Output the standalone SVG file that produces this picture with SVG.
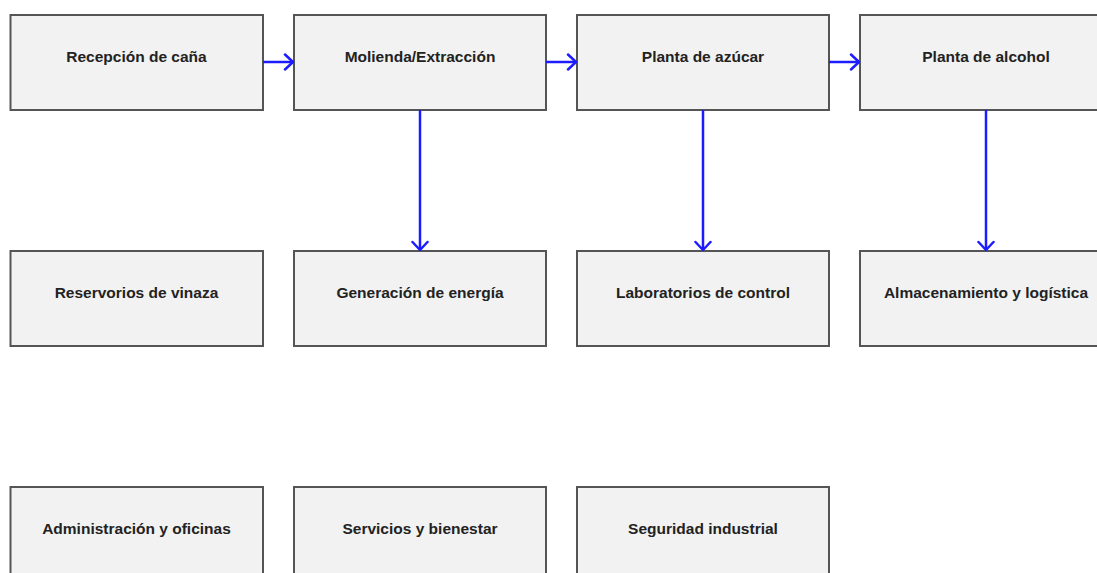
<svg xmlns="http://www.w3.org/2000/svg" width="1097" height="573" viewBox="0 0 1097 573">
<style>
.box{fill:#f2f2f2;stroke:#555;stroke-width:2}
.lbl{font-family:"Liberation Sans",Arial,sans-serif;font-weight:bold;font-size:15.5px;fill:#222;text-anchor:middle}
.arr{stroke:#1c1cff;stroke-width:2.5;fill:none}
</style>
<defs>
<marker id="ah" markerWidth="14" markerHeight="20" refX="10" refY="9" orient="auto" markerUnits="userSpaceOnUse">
<path d="M2,1.5 L10,9 L2,16.5" fill="none" stroke="#1c1cff" stroke-width="2.5" stroke-linecap="round" stroke-linejoin="round"/>
</marker>
</defs>
<rect width="1097" height="573" fill="#fff"/>
<g id="n1"><rect class="box" x="10.5" y="15" width="252.5" height="95"/><text class="lbl" x="136.5" y="62">Recepción de caña</text></g>
<g id="n2"><rect class="box" x="294" y="15" width="252" height="95"/><text class="lbl" x="420" y="62">Molienda/Extracción</text></g>
<g id="n3"><rect class="box" x="577" y="15" width="252" height="95"/><text class="lbl" x="703" y="62">Planta de azúcar</text></g>
<g id="n4"><rect class="box" x="860" y="15" width="252" height="95"/><text class="lbl" x="986" y="62">Planta de alcohol</text></g>
<g id="n5"><rect class="box" x="10.5" y="251" width="252.5" height="95"/><text class="lbl" x="136.5" y="298">Reservorios de vinaza</text></g>
<g id="n6"><rect class="box" x="294" y="251" width="252" height="95"/><text class="lbl" x="420" y="298">Generación de energía</text></g>
<g id="n7"><rect class="box" x="577" y="251" width="252" height="95"/><text class="lbl" x="703" y="298">Laboratorios de control</text></g>
<g id="n8"><rect class="box" x="860" y="251" width="252" height="95"/><text class="lbl" x="986" y="298">Almacenamiento y logística</text></g>
<g id="n9"><rect class="box" x="10.5" y="487" width="252.5" height="95"/><text class="lbl" x="136.5" y="534">Administración y oficinas</text></g>
<g id="n10"><rect class="box" x="294" y="487" width="252" height="95"/><text class="lbl" x="420" y="534">Servicios y bienestar</text></g>
<g id="n11"><rect class="box" x="577" y="487" width="252" height="95"/><text class="lbl" x="703" y="534">Seguridad industrial</text></g>
<g id="connectors">
<line class="arr" x1="263" y1="62" x2="293" y2="62" marker-end="url(#ah)"/>
<line class="arr" x1="546" y1="62" x2="576" y2="62" marker-end="url(#ah)"/>
<line class="arr" x1="829" y1="62" x2="859" y2="62" marker-end="url(#ah)"/>
<line class="arr" x1="420" y1="110" x2="420" y2="250" marker-end="url(#ah)"/>
<line class="arr" x1="703" y1="110" x2="703" y2="250" marker-end="url(#ah)"/>
<line class="arr" x1="986" y1="110" x2="986" y2="250" marker-end="url(#ah)"/>
</g>
</svg>
